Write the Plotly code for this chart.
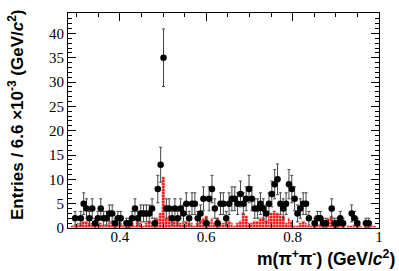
import numpy as np
import plotly.graph_objects as go

x_start = 0.28
bin_width = 0.0066
n_bins = 109

data_counts = [0, 0, 2, 0, 2, 5, 4, 2, 4, 1, 2, 4, 2, 2, 3, 3, 1, 2, 2, 0,
               1, 1, 2, 4, 2, 3, 3, 3, 3, 4, 1, 8, 13, 35, 4, 4, 2, 4, 2, 4,
               3, 5, 2, 5, 5, 2, 3, 6, 1, 6, 8, 4, 1, 5, 5, 2, 5, 6, 6, 5,
               7, 5, 6, 8, 6, 4, 4, 5, 4, 3, 5, 7, 9, 10, 5, 4, 5, 9, 8, 6,
               3, 4, 5, 5, 2, 0, 1, 2, 2, 1, 1, 0, 4, 1, 1, 2, 1, 0, 0, 3,
               2, 1, 0, 0, 1, 1, 0, 0, 0]

bkg_counts = [0, 0.5, 0.5, 1.0, 1.0, 1.5, 1.5, 1.0, 1.0, 0.5, 0.5, 1.0, 0.5, 0.5, 1.0,
              1.5, 1.0, 0.5, 1.0, 0.5, 0.5, 1.0, 1.0, 0.5, 1.5, 1.0, 0.5,
              1.0, 1.5, 1.5, 2.0, 2.0, 3.0, 10.5, 2.0, 2.5, 1.5, 2.0, 1.5, 1.0,
              1.0, 1.5, 1.0, 1.0, 0.5, 1.0, 1.5, 2.0, 2.5, 1.5, 2.0, 1.0, 2.0, 1.0,
              1.0, 1.5, 1.5, 1.0, 0.5, 1.0, 1.5, 3.0, 2.5, 1.0, 1.0, 1.5, 1.5, 2.0,
              2.0, 1.5, 2.5, 3.0, 3.5, 3.0, 2.5, 2.5, 1.0, 2.0, 1.5, 0.5, 0.5,
              1.0, 1.5, 1.0, 0.5, 0.5, 0.5, 0.5, 0.5, 0.5, 0.5, 2.0, 2.5, 1.0, 0.5,
              0.5, 0.5, 0, 0.5, 0.5, 0.5, 0.5, 0.5, 0, 0.5, 0.5, 0.5, 0.5, 0]

x_tick_vals = [0.4, 0.6, 0.8, 1.0]
x_tick_text = ["0.4", "0.6", "0.8", "1"]
y_tick_vals = [0, 5, 10, 15, 20, 25, 30, 35, 40]

centers = x_start + bin_width * (np.arange(n_bins) + 0.5)
counts = np.array(data_counts, dtype=float)
mask = counts > 0

fig = go.Figure()

fig.add_trace(go.Bar(
    x=centers, y=bkg_counts, width=bin_width,
    marker=dict(color="#ff1010", line=dict(width=0.4, color="#ffd0d0"),
                pattern=dict(shape="-", fgcolor="#ffffff", bgcolor="#ff1010",
                             size=3, solidity=0.3)),
    showlegend=False, hoverinfo="skip"))

fig.add_trace(go.Scatter(
    x=centers[mask], y=counts[mask], mode="markers",
    marker=dict(color="black", size=6.5, symbol="circle"),
    error_y=dict(type="data", array=np.sqrt(counts[mask]), color="#444444",
                 thickness=1, width=1.5),
    showlegend=False))

tickfont = dict(family="Liberation Serif", size=15, color="black")
fig.update_layout(
    width=399, height=271,
    margin=dict(l=68, r=20, t=13, b=43),
    paper_bgcolor="white", plot_bgcolor="white",
    bargap=0,
    xaxis=dict(range=[0.28, 1.0], tickvals=x_tick_vals, ticktext=x_tick_text,
               ticks="inside", ticklen=8, tickcolor="black", tickwidth=1,
               ticklabelstandoff=-5,
               minor=dict(dtick=0.05, tick0=0, ticks="inside", ticklen=4,
                          tickcolor="black"),
               showline=True, linecolor="black", linewidth=1, mirror="ticks",
               showgrid=False, zeroline=False, tickfont=tickfont),
    yaxis=dict(range=[0, 44.2], tickvals=y_tick_vals,
               ticks="inside", ticklen=8, tickcolor="black", tickwidth=1,
               minor=dict(dtick=1, tick0=0, ticks="inside", ticklen=4,
                          tickcolor="black"),
               showline=True, linecolor="black", linewidth=1, mirror="ticks",
               showgrid=False, zeroline=False, tickfont=tickfont),
    annotations=[
        dict(text="<b>Entries / 6.6 ×10<sup>-3</sup> (GeV/<i>c</i><sup>2</sup>)</b>",
             xref="paper", yref="paper", x=-0.167, y=0.526, xanchor="center",
             yanchor="middle", textangle=-90, showarrow=False,
             font=dict(family="Liberation Sans", size=17, color="black")),
        dict(text="<b>m(π<sup>+</sup>π<sup>-</sup>) (GeV/<i>c</i><sup>2</sup>)</b>",
             xref="paper", yref="paper", x=1.058, y=-0.138, xanchor="right",
             yanchor="middle", showarrow=False,
             font=dict(family="Liberation Sans", size=17.5, color="black")),
    ],
)

fig.write_html("out.html", config={"displayModeBar": False},
               post_script="document.body.style.margin='0';document.body.style.overflow='hidden';")
